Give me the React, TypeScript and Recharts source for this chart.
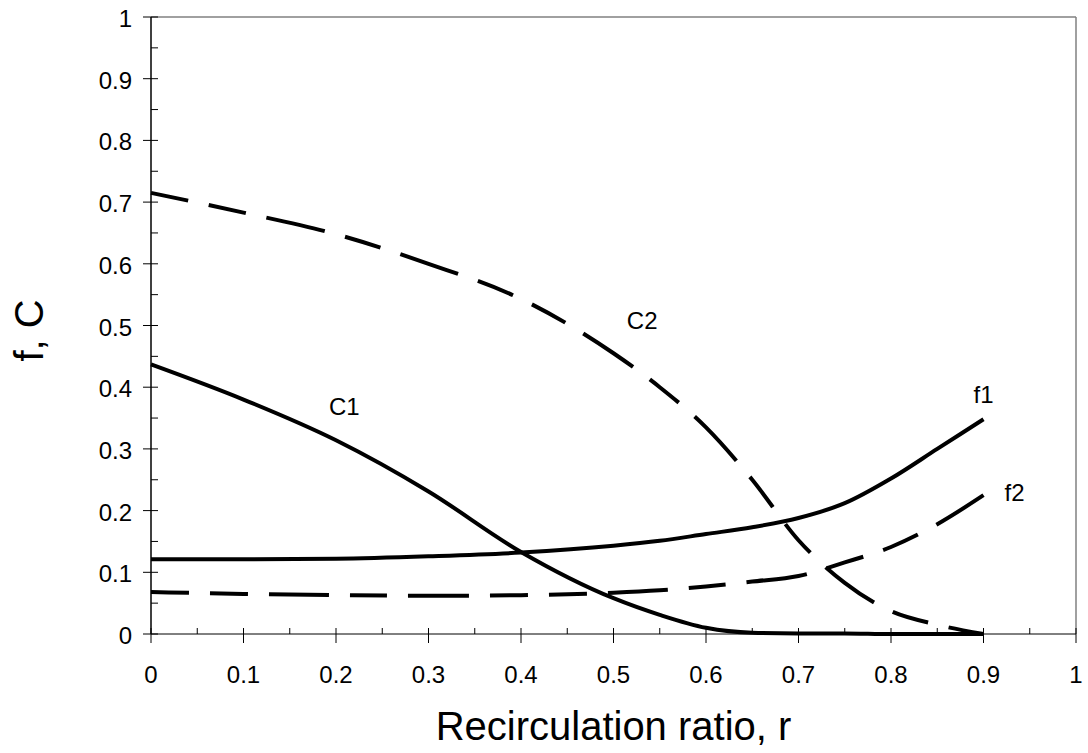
import { LineChart, Line, XAxis, YAxis, ReferenceLine, ReferenceDot, Label } from 'recharts';

// recirculation ratio r
const ratio = [0, 0.1, 0.2, 0.3, 0.4, 0.5, 0.55, 0.6, 0.65, 0.7, 0.75, 0.8, 0.85, 0.9];
const c1 = [0.437, 0.38, 0.314, 0.231, 0.133, 0.058, 0.031, 0.01, 0.002, 0.001, 0.001, 0, 0, 0];
const c2 = [0.715, 0.683, 0.648, 0.6, 0.543, 0.455, 0.4, 0.335, 0.25, 0.152, 0.083, 0.037, 0.015, 0];
const f1 = [0.121, 0.121, 0.122, 0.126, 0.132, 0.143, 0.151, 0.162, 0.173, 0.188, 0.212, 0.252, 0.3, 0.348];
const f2 = [0.068, 0.065, 0.063, 0.062, 0.063, 0.067, 0.071, 0.077, 0.085, 0.094, 0.116, 0.141, 0.178, 0.225];

const allTicks = [0, 0.05, 0.1, 0.15, 0.2, 0.25, 0.3, 0.35, 0.4, 0.45, 0.5, 0.55, 0.6, 0.65, 0.7, 0.75, 0.8, 0.85, 0.9, 0.95, 1];
const majorTicks = [0, 0.1, 0.2, 0.3, 0.4, 0.5, 0.6, 0.7, 0.8, 0.9, 1];

const curveLabels = [
  { text: 'C1', r: 0.209, v: 0.369 },
  { text: 'C2', r: 0.531, v: 0.509 },
  { text: 'f1', r: 0.9, v: 0.389 },
  { text: 'f2', r: 0.9335, v: 0.23 },
];

const data = ratio.map((r, i) => ({ r, c1: c1[i], c2: c2[i], f1: f1[i], f2: f2[i] }));

const FONT = '"Liberation Sans", Arial, sans-serif';
const DASH = '38 21 38 21 60 21 37 21 61 21';

function XTick({ x, y, payload }: any) {
  const major = majorTicks.includes(payload.value);
  return (
    <g>
      <line x1={x} x2={x} y1={y - 6} y2={major ? y + 9 : y} stroke="#000" strokeWidth={1} />
      {major && (
        <text x={x} y={y + 49} textAnchor="middle" fontSize={24} fontFamily={FONT} fill="#000">
          {String(payload.value)}
        </text>
      )}
    </g>
  );
}

function YTick({ x, y, payload }: any) {
  const major = majorTicks.includes(payload.value);
  return (
    <g>
      <line x1={major ? x - 8 : x} x2={x + 7} y1={y} y2={y} stroke="#000" strokeWidth={1} />
      {major && (
        <text x={x - 19} y={y + 10} textAnchor="end" fontSize={24} fontFamily={FONT} fill="#000">
          {String(payload.value)}
        </text>
      )}
    </g>
  );
}

export default function App() {
  return (
    <div style={{ position: 'absolute', left: 0, top: 0, width: 1088, height: 753, background: '#fff' }}>
      <LineChart width={1088} height={753} data={data} margin={{ top: 17, right: 12, left: 0, bottom: 0 }}>
        <XAxis
          dataKey="r"
          type="number"
          domain={[0, 1]}
          ticks={allTicks}
          interval={0}
          height={119}
          tickSize={0}
          tickMargin={0}
          tick={<XTick />}
          axisLine={{ stroke: '#000', strokeWidth: 1 }}
        >
          <Label
            content={({ viewBox }: any) => (
              <text
                x={viewBox.x + viewBox.width / 2}
                y={viewBox.y + 106}
                textAnchor="middle"
                fontSize={40}
                fontFamily={FONT}
                fill="#000"
              >
                Recirculation ratio, r
              </text>
            )}
          />
        </XAxis>
        <YAxis
          type="number"
          domain={[0, 1]}
          ticks={allTicks}
          interval={0}
          width={151}
          tickSize={0}
          tickMargin={0}
          tick={<YTick />}
          axisLine={{ stroke: '#000', strokeWidth: 1.5 }}
        >
          <Label
            content={({ viewBox }: any) => (
              <text
                transform={`translate(43, ${viewBox.y + viewBox.height / 2 + 5}) rotate(-90)`}
                textAnchor="middle"
                fontSize={40}
                fontFamily={FONT}
                fill="#000"
              >
                f, C
              </text>
            )}
          />
        </YAxis>
        <ReferenceLine y={1} stroke="#808080" strokeWidth={1.5} />
        <ReferenceLine x={1} stroke="#808080" strokeWidth={1.5} />
        <Line type="monotone" dataKey="c2" stroke="#000" strokeWidth={4} strokeDasharray={DASH} dot={false} isAnimationActive={false} />
        <Line type="monotone" dataKey="f2" stroke="#000" strokeWidth={4} strokeDasharray={DASH} dot={false} isAnimationActive={false} />
        <Line type="monotone" dataKey="c1" stroke="#000" strokeWidth={4} dot={false} isAnimationActive={false} />
        <Line type="monotone" dataKey="f1" stroke="#000" strokeWidth={4} dot={false} isAnimationActive={false} />
        {curveLabels.map((l) => (
          <ReferenceDot
            key={l.text}
            x={l.r}
            y={l.v}
            r={0}
            shape={(p: any) => (
              <text
                x={p.cx}
                y={p.cy + 9}
                textAnchor="middle"
                fontSize={24}
                fontFamily={FONT}
                fill="#000"
              >
                {l.text}
              </text>
            )}
          />
        ))}
      </LineChart>
    </div>
  );
}
